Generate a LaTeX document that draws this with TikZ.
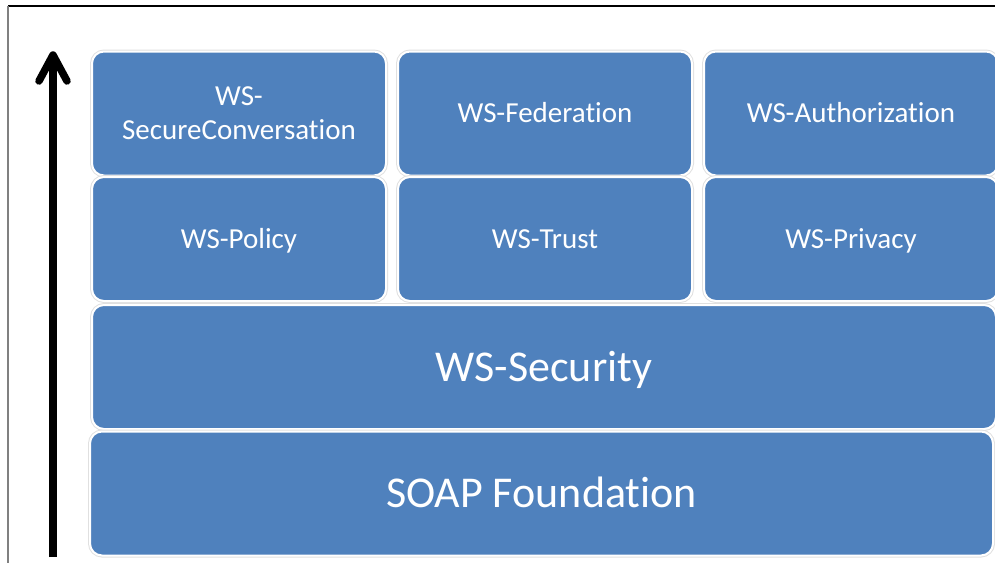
\documentclass[tikz,border=0pt]{standalone}
\usepackage{fontspec}
\setmainfont{Carlito}[Ligatures=NoCommon]
\definecolor{boxblue}{HTML}{4F81BD}
\begin{document}
\begin{tikzpicture}[x=1pt,y=-1pt,
  blk/.style={draw=white, line width=2pt, fill=boxblue, rounded corners=12pt,
    text=white, align=center, inner sep=0pt,
    preaction={draw=black!12, line width=4pt}},
  small/.style={blk, minimum width=294pt, minimum height=124pt,
    font=\fontsize{29}{34}\selectfont},
  oneline/.style={text height=18.7pt, text depth=0pt},
  big/.style={blk, minimum height=124pt, text height=28.3pt, text depth=0pt,
    font=\fontsize{44}{52}\selectfont},
  frameline/.style={line width=1.5pt},
  upline/.style={line width=8pt},
  uphead/.style={line width=7.5pt, line cap=round, line join=round}]
\useasboundingbox (0,0) rectangle (995,563);

% frame
\coordinate (fl) at (8,6);
\coordinate (fr) at (995,6);
\coordinate (fb) at (8,563);
\draw[frameline] (fl) -- (fr);
\draw[frameline, gray] (fl) -- (fb);

% boxes
\node[small] (sc)   at (239,113.5) {WS-\\SecureConversation};
\node[small, oneline] (fed)  at (545,113.5) {WS-Federation};
\node[small, oneline] (auth) at (851,113.5) {WS-Authorization};
\node[small, oneline] (pol)  at (239,239) {WS-Policy};
\node[small, oneline] (tru)  at (545,239) {WS-Trust};
\node[small, oneline] (pri)  at (851,239) {WS-Privacy};
\node[big, minimum width=904pt] (sec)  at (544,367) {WS-Security};
\node[big, minimum width=903pt] (soap) at (541.5,493.5) {SOAP Foundation};

% arrow
\coordinate (ab) at (53,557);
\coordinate (at) at (53,56);
\coordinate (aw1) at (39,81);
\coordinate (aw2) at (67,81);
\coordinate (ap) at (53,55);
\draw[upline] (ab) -- (at);
\draw[uphead] (aw1) -- (ap) -- (aw2);
\end{tikzpicture}
\end{document}
